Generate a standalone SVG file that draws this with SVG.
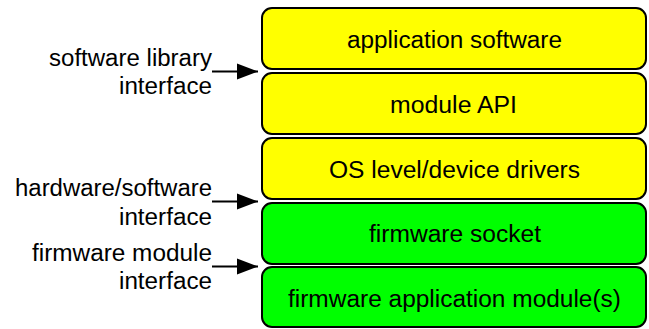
<svg xmlns="http://www.w3.org/2000/svg" width="649" height="329" viewBox="0 0 649 329">
<style>
.box{stroke:#000;stroke-width:2}
.sw{fill:#ffff00}
.fw{fill:#00ff00}
text{font-family:"Liberation Sans",Arial,sans-serif;font-size:23px;fill:#000}
.conn{stroke:#000;stroke-width:2;fill:none}
</style>
<defs>
<marker id="ah" markerUnits="userSpaceOnUse" viewBox="0 0 22 16" markerWidth="22" markerHeight="16" refX="21" refY="8" orient="auto" overflow="visible">
<path d="M0,0 L21,8 L0,16 z" fill="#000"/>
</marker>
</defs>
<rect width="649" height="329" fill="#fff"/>
<g id="app-software">
<rect class="box sw" x="262" y="8" width="384" height="61" rx="10"/>
<text x="347" y="48" textLength="215" lengthAdjust="spacingAndGlyphs">application software</text>
</g>
<g id="module-api">
<rect class="box sw" x="262" y="73" width="384" height="61" rx="10"/>
<text x="390" y="113" textLength="127" lengthAdjust="spacingAndGlyphs">module API</text>
</g>
<g id="os-drivers">
<rect class="box sw" x="262" y="138" width="384" height="61" rx="10"/>
<text x="329" y="178" textLength="251" lengthAdjust="spacingAndGlyphs">OS level/device drivers</text>
</g>
<g id="fw-socket">
<rect class="box fw" x="262" y="203" width="384" height="61" rx="10"/>
<text x="369" y="242" textLength="172" lengthAdjust="spacingAndGlyphs">firmware socket</text>
</g>
<g id="fw-app-module">
<rect class="box fw" x="262" y="267" width="384" height="60" rx="10"/>
<text x="288" y="307" textLength="333" lengthAdjust="spacingAndGlyphs">firmware application module(s)</text>
</g>
<g id="label-swlib">
<text x="49" y="66" textLength="163" lengthAdjust="spacingAndGlyphs">software library</text>
<text x="119" y="94" textLength="93" lengthAdjust="spacingAndGlyphs">interface</text>
</g>
<g id="label-hwsw">
<text x="15" y="196" textLength="197" lengthAdjust="spacingAndGlyphs">hardware/software</text>
<text x="119" y="225" textLength="93" lengthAdjust="spacingAndGlyphs">interface</text>
</g>
<g id="label-fwmod">
<text x="32" y="261" textLength="180" lengthAdjust="spacingAndGlyphs">firmware module</text>
<text x="119" y="289" textLength="93" lengthAdjust="spacingAndGlyphs">interface</text>
</g>
<g id="connectors">
<line class="conn" x1="212" y1="71.5" x2="258" y2="71.5" marker-end="url(#ah)"/>
<line class="conn" x1="212" y1="201.5" x2="258" y2="201.5" marker-end="url(#ah)"/>
<line class="conn" x1="212" y1="266.5" x2="258" y2="266.5" marker-end="url(#ah)"/>
</g>
</svg>
